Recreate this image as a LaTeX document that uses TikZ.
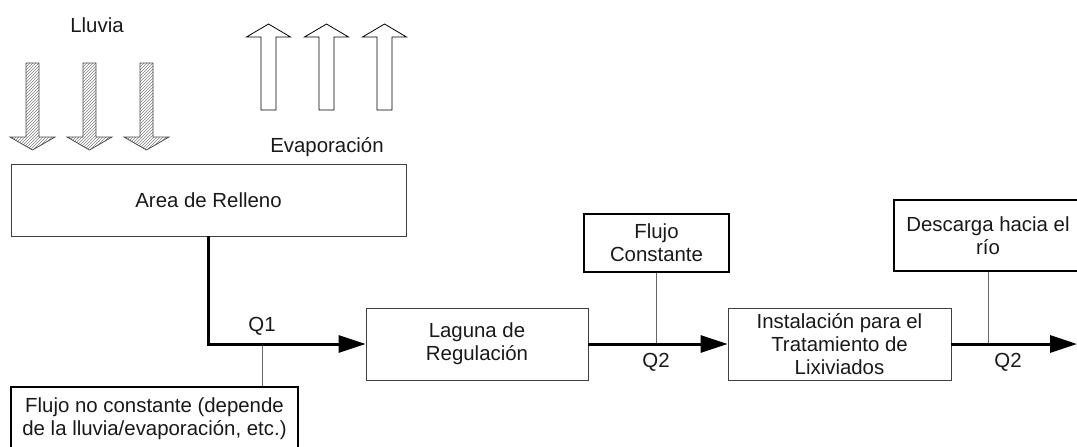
\documentclass[tikz,border=0pt]{standalone}
\usepackage{fontspec}
\setmainfont{Liberation Sans}
\usetikzlibrary{arrows.meta,patterns}
\begin{document}
\begin{tikzpicture}[x=1pt,y=-1pt,
  every node/.style={font=\fontsize{20.4}{23}\selectfont, align=center, inner sep=0pt, text=black!90},
  thinbox/.style={draw=black!75, line width=0.9pt},
  thickbox/.style={draw=black, line width=1.6pt},
  flow/.style={line width=3pt, -{Triangle[length=27pt,width=17pt]}},
  tie/.style={draw=black!60, line width=1pt},
  rain/.style={draw=black!70, line width=0.8pt, pattern=north east lines, pattern color=black!50},
  evaparrow/.style={draw=black, line width=0.8pt, fill=white}]
\clip (0,0) rectangle (1077,447);
% nodes
\node[thinbox, minimum width=395pt, minimum height=72pt] (area) at (208.5,200) {Area de Relleno};
\node[thinbox, minimum width=222pt, minimum height=72pt] (laguna) at (477,344) {Laguna de\\Regulación};
\node[thinbox, minimum width=223pt, minimum height=72pt] (inst) at (839.5,344) {Instalación para el\\Tratamiento de\\Lixiviados};
\node[thickbox, minimum width=145pt, minimum height=58pt] (fc) at (656.5,243) {Flujo\\Constante};
\node[thickbox, minimum width=188pt, minimum height=71pt] (desc) at (988,235.5) {Descarga hacia el\\río};
\node[thickbox, minimum width=287pt, minimum height=63pt] (fnc) at (154.5,418.5) {Flujo no constante (depende\\de la lluvia/evaporación, etc.)};
\node (lluvia) at (97,25) {Lluvia};
\node (evap) at (327,147) {Evaporación};
\node (q1) at (262,326) {Q1};
\node (q2a) at (656,362) {Q2};
\node (q2b) at (1008,362) {Q2};
% block arrows
\foreach \c in {32.5,89.5,146.5}
  \draw[rain] (\c-6.5,63) -- (\c+6.5,63) -- (\c+6.5,137) -- (\c+22.5,137) -- (\c,150) -- (\c-22.5,137) -- (\c-6.5,137) -- cycle;
\foreach \c in {268.5,326.5,384.5}
  \draw[evaparrow] (\c-7.5,110) -- (\c+7.5,110) -- (\c+7.5,37) -- (\c+22,37) -- (\c,24) -- (\c-22,37) -- (\c-7.5,37) -- cycle;
% connectors
\coordinate (j1) at (262,344);
\coordinate (j2) at (656.5,344);
\coordinate (j3) at (988,344);
\coordinate (out) at (1077,344);
\draw[tie] (fnc.north -| j1) -- (j1);
\draw[tie] (fc.south) -- (j2);
\draw[tie] (desc.south) -- (j3);
\draw[flow] (area.south) |- (laguna.west);
\draw[flow] (laguna.east) -- (inst.west);
\draw[flow] (inst.east) -- (out);
\end{tikzpicture}
\end{document}
